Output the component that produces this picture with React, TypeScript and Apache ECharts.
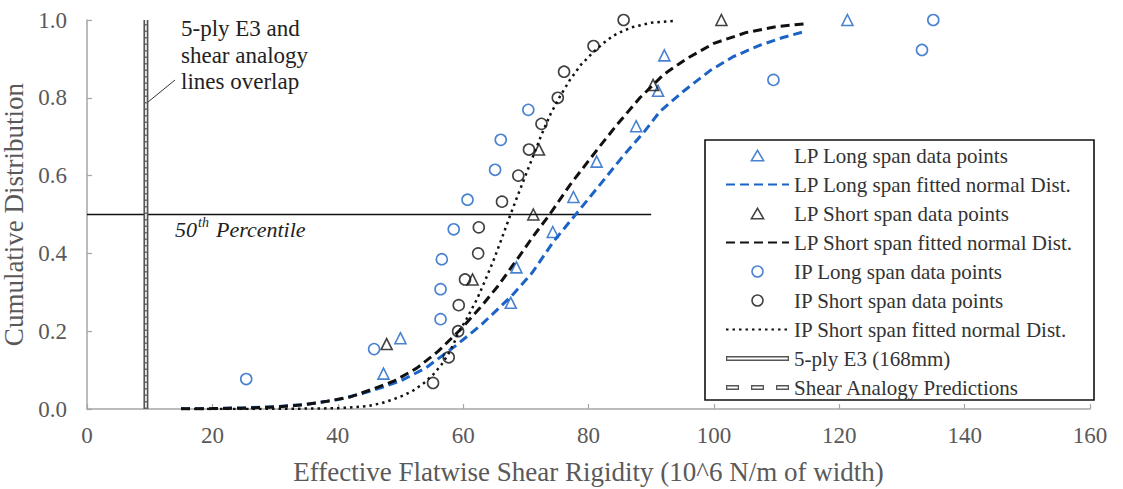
import React, { useEffect, useRef } from 'react';
import * as echarts from 'echarts';

const FONT = "'Liberation Serif', 'Times New Roman', Times, serif";
const BLUE = '#1b63c6';
const BLACK = '#111111';
const GREY = '#555555';
const AXIS_GREY = '#a6a6a6';
const LABEL_GREY = '#595959';
const CLEAR = 'rgba(0,0,0,0)';

// Axis ranges
const xRange = { min: 0, max: 160, interval: 20 };
const yRange = { min: 0, max: 1, interval: 0.2 };

// Measured data points: [shear rigidity, cumulative probability]
const lpLongPoints = [
  [47.3, 0.091], [50.0, 0.182], [67.6, 0.273], [68.5, 0.364], [74.3, 0.455],
  [77.6, 0.545], [81.3, 0.636], [87.6, 0.727], [91.1, 0.818], [92.1, 0.909],
  [121.3, 1.0],
];
const lpShortPoints = [
  [47.8, 0.167], [61.5, 0.333], [71.2, 0.5], [72.1, 0.667], [90.3, 0.833], [101.2, 1.0],
];
const ipLongPoints = [
  [25.4, 0.077], [45.8, 0.154], [56.4, 0.231], [56.4, 0.308], [56.6, 0.385],
  [58.5, 0.462], [60.7, 0.538], [65.1, 0.615], [66.0, 0.692], [70.4, 0.769],
  [109.5, 0.846], [133.2, 0.923], [135.0, 1.0],
];
const ipShortPoints = [
  [55.2, 0.067], [57.7, 0.133], [59.2, 0.2], [59.3, 0.267], [60.3, 0.333],
  [62.4, 0.4], [62.5, 0.467], [66.2, 0.533], [68.8, 0.6], [70.5, 0.667],
  [72.5, 0.733], [75.1, 0.8], [76.1, 0.867], [80.8, 0.933], [85.6, 1.0],
];

// Fitted normal distribution curves
const lpLongFit = [
  [15, 0.0005], [20, 0.001], [25, 0.003], [30, 0.006], [35, 0.012], [40, 0.024],
  [44, 0.04], [47, 0.055], [50, 0.072], [54, 0.105], [59, 0.165], [63, 0.218],
  [67.7, 0.29], [71, 0.35], [74.4, 0.43], [78.1, 0.503], [82, 0.58], [85.5, 0.65],
  [89, 0.715], [91.4, 0.765], [95, 0.815], [99.4, 0.87], [103, 0.905],
  [107.3, 0.935], [111, 0.955], [114.8, 0.972],
];
const lpShortFit = [
  [15, 0.0005], [20, 0.001], [25, 0.002], [30, 0.005], [34, 0.01], [38, 0.019],
  [42, 0.031], [45.7, 0.052], [49, 0.072], [52.6, 0.105], [56, 0.148],
  [59.5, 0.203], [62.7, 0.26], [65.5, 0.315], [68.5, 0.382], [71, 0.44],
  [73.8, 0.5], [77, 0.575], [81.3, 0.665], [84.5, 0.73], [88.2, 0.8], [92, 0.86],
  [95.6, 0.9], [100, 0.94], [105.2, 0.968], [110, 0.983], [115, 0.991],
];
const ipShortFit = [
  [15, 0], [25, 0], [35, 0.001], [40, 0.002], [44.6, 0.007], [47, 0.015],
  [48.9, 0.025], [50.5, 0.035], [52.1, 0.048], [53.7, 0.066], [55.2, 0.088],
  [56.5, 0.113], [57.6, 0.14], [58.5, 0.168], [59.2, 0.195], [60.5, 0.23],
  [62.2, 0.282], [63.5, 0.33], [64.8, 0.38], [66.2, 0.44], [67.6, 0.502],
  [69.1, 0.565], [70.8, 0.635], [72.5, 0.705], [74, 0.76], [75.5, 0.805],
  [77, 0.845], [78.8, 0.885], [80.8, 0.918], [82.5, 0.942], [84, 0.96],
  [85.5, 0.972], [87.1, 0.982], [90, 0.993], [94, 0.998],
];

// Reference lines
const e3Line = [[9.4, 0], [9.4, 1.0]];
const shearAnalogyLine = [[9.4, 0], [9.4, 1.0]];
const percentileLine = [[0, 0.5], [90, 0.5]];

// Legend icons (63 x 12 boxes; corner anchors keep the box size fixed)
const ANCHORS = 'M0,0L0.001,0Z M63,12L62.999,12Z ';
const triangleIcon = 'path://' + ANCHORS + 'M31.5,0.8L37.6,11.2L25.4,11.2Z';
const circleIcon = 'path://' + ANCHORS + 'M37,6A5.5,5.5,0,1,1,26,6A5.5,5.5,0,1,1,37,6Z';
const e3Icon = 'path://M0,0H63V5H0Z M1.3,1.6V3.4H61.7V1.6Z';
const saIcon =
  'path://M0,0H13V5H0Z M1.3,1.6V3.4H11.7V1.6Z ' +
  'M25,0H38V5H25Z M26.3,1.6V3.4H36.7V1.6Z ' +
  'M50,0H63V5H50Z M51.3,1.6V3.4H61.7V1.6Z';

const legendNames = [
  'LP Long span data points',
  'LP Long span fitted normal Dist.',
  'LP Short span data points',
  'LP Short span fitted normal Dist.',
  'IP Long span data points',
  'IP Short span data points',
  'IP Short span fitted normal Dist.',
  '5-ply E3 (168mm)',
  'Shear Analogy Predictions',
];

const hollow = (color: string) => ({
  color: CLEAR,
  borderColor: color,
  borderWidth: 1.6,
});

const hiddenMarker = { color: CLEAR, borderColor: CLEAR, borderWidth: 0 };

export default function App() {
  const ref = useRef<HTMLDivElement>(null);

  useEffect(() => {
    if (!ref.current) return;
    const chart = echarts.init(ref.current, undefined, { renderer: 'svg' });

    const option: any = {
      animation: false,
      backgroundColor: '#ffffff',
      grid: {
        left: 87,
        right: 33,
        top: 20,
        bottom: 80,
        containLabel: false,
        outerBoundsMode: 'none',
      },
      xAxis: {
        type: 'value',
        min: xRange.min,
        max: xRange.max,
        interval: xRange.interval,
        name: 'Effective Flatwise Shear Rigidity (10^6 N/m of width)',
        nameLocation: 'middle',
        nameGap: 49,
        nameTextStyle: { fontFamily: FONT, fontSize: 27, color: LABEL_GREY },
        axisLine: { show: true, lineStyle: { color: AXIS_GREY, width: 1.5 } },
        axisTick: { show: true, inside: true, length: 5, lineStyle: { color: AXIS_GREY, width: 1.2 } },
        axisLabel: { fontFamily: FONT, fontSize: 23, color: LABEL_GREY, margin: 15 },
        splitLine: { show: false },
      },
      yAxis: {
        type: 'value',
        min: yRange.min,
        max: yRange.max,
        interval: yRange.interval,
        name: 'Cumulative Distribution',
        nameLocation: 'middle',
        nameGap: 54,
        nameTextStyle: { fontFamily: FONT, fontSize: 27, color: LABEL_GREY },
        axisLine: { show: true, lineStyle: { color: AXIS_GREY, width: 1.5 } },
        axisTick: { show: true, inside: true, length: 5, lineStyle: { color: AXIS_GREY, width: 1.2 } },
        axisLabel: {
          fontFamily: FONT,
          fontSize: 23,
          color: LABEL_GREY,
          margin: 20,
          formatter: (v: number) => v.toFixed(1),
        },
        splitLine: { show: false },
      },
      legend: {
        orient: 'vertical',
        left: 725,
        top: 145,
        padding: 0,
        itemGap: 8,
        itemWidth: 63,
        itemHeight: 12,
        selectedMode: false,
        textStyle: { fontFamily: FONT, fontSize: 21, lineHeight: 20, color: '#333333' },
        data: [
          { name: legendNames[0], icon: triangleIcon, itemStyle: hollow(BLUE) },
          { name: legendNames[1], itemStyle: hiddenMarker },
          { name: legendNames[2], icon: triangleIcon, itemStyle: hollow(BLACK) },
          { name: legendNames[3], itemStyle: hiddenMarker },
          { name: legendNames[4], icon: circleIcon, itemStyle: hollow(BLUE) },
          { name: legendNames[5], icon: circleIcon, itemStyle: hollow(BLACK) },
          { name: legendNames[6], itemStyle: hiddenMarker },
          { name: legendNames[7], icon: e3Icon, itemStyle: { color: GREY, borderWidth: 0 } },
          { name: legendNames[8], icon: saIcon, itemStyle: { color: GREY, borderWidth: 0 } },
        ],
      },
      graphic: [
        {
          type: 'rect',
          shape: { x: 705, y: 140, width: 389, height: 260 },
          style: { fill: 'none', stroke: '#111', lineWidth: 1.6 },
          silent: true,
        },
        {
          type: 'text',
          x: 181,
          y: 15,
          style: {
            text: '5-ply E3 and\nshear analogy\nlines overlap',
            font: `23px ${FONT}`,
            fill: '#222',
            lineHeight: 26.7,
            verticalAlign: 'top',
          },
          silent: true,
        },
        {
          type: 'line',
          shape: { x1: 175, y1: 80, x2: 148, y2: 102 },
          style: { stroke: '#333', lineWidth: 1 },
          silent: true,
        },
        {
          type: 'text',
          x: 175,
          y: 229,
          style: { text: '50', font: `italic 22px ${FONT}`, fill: '#222', verticalAlign: 'middle' },
          silent: true,
        },
        {
          type: 'text',
          x: 198,
          y: 222,
          style: { text: 'th', font: `italic 14px ${FONT}`, fill: '#222', verticalAlign: 'middle' },
          silent: true,
        },
        {
          type: 'text',
          x: 216,
          y: 229,
          style: { text: 'Percentile', font: `italic 22px ${FONT}`, fill: '#222', verticalAlign: 'middle' },
          silent: true,
        },
      ],
      series: [
        {
          name: 'p50',
          type: 'line',
          data: percentileLine,
          symbol: 'none',
          lineStyle: { color: BLACK, width: 1.6 },
          z: 2,
        },
        {
          name: legendNames[7],
          type: 'line',
          data: e3Line,
          symbol: 'none',
          lineStyle: { color: GREY, width: 5 },
          itemStyle: { color: GREY },
          z: 2,
        },
        {
          name: 'e3-core',
          type: 'line',
          data: e3Line,
          symbol: 'none',
          lineStyle: { color: '#ffffff', width: 1.6 },
          z: 2,
        },
        {
          name: legendNames[8],
          type: 'line',
          data: shearAnalogyLine,
          symbol: 'none',
          lineStyle: { color: GREY, width: 1.6, type: [1.5, 5] },
          itemStyle: { color: GREY },
          z: 2,
        },
        {
          name: legendNames[1],
          type: 'line',
          data: lpLongFit,
          symbol: 'none',
          lineStyle: { color: BLUE, width: 3, type: [9, 5] },
          itemStyle: { color: BLUE },
          z: 3,
        },
        {
          name: legendNames[3],
          type: 'line',
          data: lpShortFit,
          symbol: 'none',
          lineStyle: { color: BLACK, width: 3, type: [9, 5] },
          itemStyle: { color: BLACK },
          z: 3,
        },
        {
          name: legendNames[6],
          type: 'line',
          data: ipShortFit,
          symbol: 'none',
          lineStyle: { color: BLACK, width: 2.5, type: [2.5, 4] },
          itemStyle: { color: BLACK },
          z: 3,
        },
        {
          name: legendNames[0],
          type: 'scatter',
          symbol: 'triangle',
          symbolSize: 11,
          data: lpLongPoints,
          itemStyle: hollow(BLUE),
          z: 4,
        },
        {
          name: legendNames[2],
          type: 'scatter',
          symbol: 'triangle',
          symbolSize: 11,
          data: lpShortPoints,
          itemStyle: hollow(BLACK),
          z: 4,
        },
        {
          name: legendNames[4],
          type: 'scatter',
          symbol: 'circle',
          symbolSize: 11,
          data: ipLongPoints,
          itemStyle: hollow(BLUE),
          z: 4,
        },
        {
          name: legendNames[5],
          type: 'scatter',
          symbol: 'circle',
          symbolSize: 11,
          data: ipShortPoints,
          itemStyle: hollow(BLACK),
          z: 4,
        },
      ],
    };

    chart.setOption(option);
    return () => chart.dispose();
  }, []);

  return (
    <div
      ref={ref}
      style={{ position: 'absolute', left: 0, top: 0, width: 1123, height: 489, background: '#fff' }}
    />
  );
}
